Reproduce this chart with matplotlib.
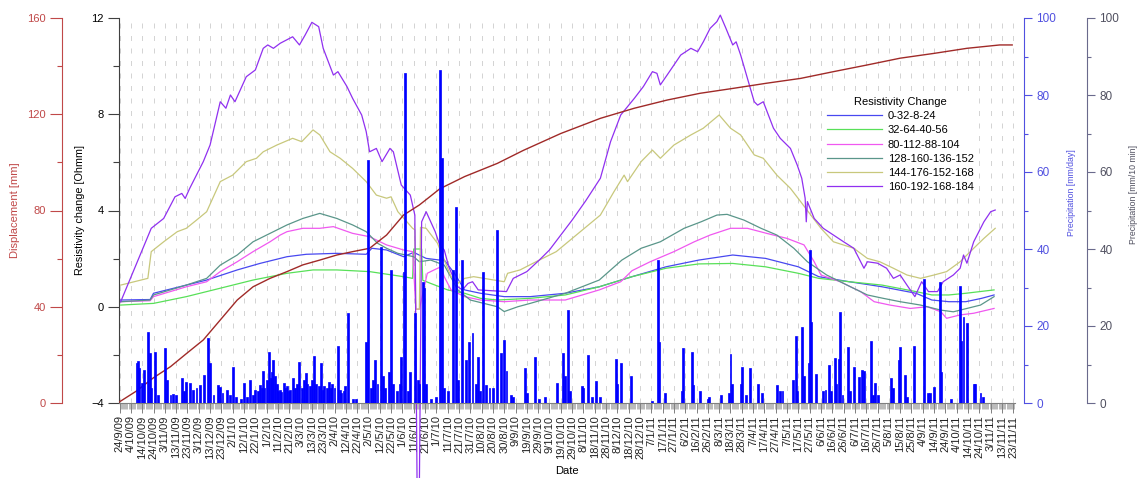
import numpy as np
import pandas as pd
import matplotlib
matplotlib.use('Agg')
import matplotlib.pyplot as plt
from matplotlib.ticker import MultipleLocator

plt.rcParams['font.family'] = ['Liberation Sans', 'DejaVu Sans']

# x axis = days since 24/9/2009
start = pd.Timestamp('2009-09-24')
tick_days = list(range(0, 791, 10))
tick_labels = ['%d/%d/%02d' % (d.day, d.month, d.year % 100)
               for d in [start + pd.Timedelta(days=t) for t in tick_days]]

# resistivity change [Ohmm]
r1_day = [1, 27, 30, 59, 77, 104, 124, 148, 165, 192, 218, 223, 236, 251, 260, 271, 283, 287, 296, 305, 319,
          340, 363, 394, 424, 453, 483, 512, 542, 571, 600, 618, 645, 674, 704, 718, 733, 748, 762, 773]
r1_val = [0.28, 0.30, 0.56, 0.90, 1.11, 1.53, 1.80, 2.08, 2.18, 2.22, 2.18, 2.43, 2.36, 2.08, 2.26, 2.01, 1.94,
          1.94, 1.39, 0.70, 0.56, 0.42, 0.42, 0.56, 0.83, 1.25, 1.66, 1.94, 2.15, 2.01, 1.66, 1.25, 1.04, 0.83,
          0.56, 0.28, 0.21, 0.21, 0.35, 0.49]

r2_day = [1, 30, 59, 89, 118, 148, 171, 192, 221, 251, 259, 260, 267, 268, 275, 290, 305, 319, 334, 363, 394,
          424, 453, 483, 512, 542, 571, 600, 618, 645, 674, 704, 718, 733, 748, 773]
r2_val = [0.07, 0.14, 0.42, 0.77, 1.11, 1.39, 1.53, 1.53, 1.46, 1.25, 1.18, 2.40, 2.40, 1.10, 0.97, 0.70, 0.56,
          0.35, 0.28, 0.35, 0.49, 0.83, 1.25, 1.60, 1.78, 1.80, 1.66, 1.39, 1.18, 1.04, 0.90, 0.63, 0.49, 0.49,
          0.56, 0.70]

r3_day = [1, 27, 30, 59, 77, 89, 104, 118, 133, 142, 148, 162, 177, 189, 206, 221, 236, 251, 259, 262, 265,
          272, 278, 284, 287, 293, 305, 319, 340, 363, 394, 424, 443, 453, 469, 490, 508, 522, 540, 555, 572,
          590, 605, 614, 620, 637, 655, 667, 681, 699, 714, 726, 731, 743, 755, 773]
r3_val = [0.21, 0.25, 0.42, 0.83, 1.04, 1.46, 1.87, 2.29, 2.70, 2.98, 3.12, 3.26, 3.26, 3.33, 3.05, 2.91, 2.57,
          2.36, 2.29, -0.10, -0.10, 1.39, 1.53, 1.66, 1.25, 0.70, 0.42, 0.28, 0.21, 0.28, 0.28, 0.70, 1.04,
          1.50, 1.87, 2.29, 2.70, 2.98, 3.26, 3.26, 3.05, 2.84, 2.57, 1.87, 1.32, 1.04, 0.63, 0.21, 0.07,
          -0.07, 0.00, -0.21, -0.48, -0.34, -0.27, -0.07]

r4_day = [1, 27, 30, 59, 77, 89, 104, 118, 133, 148, 162, 177, 192, 206, 218, 228, 236, 246, 260, 265, 275,
          287, 299, 310, 334, 340, 352, 363, 394, 424, 444, 461, 478, 499, 514, 528, 537, 552, 567, 581, 596,
          608, 625, 643, 661, 675, 690, 708, 726, 737, 749, 761, 773]
r4_val = [0.21, 0.28, 0.49, 0.90, 1.18, 1.73, 2.15, 2.70, 3.05, 3.40, 3.67, 3.88, 3.67, 3.40, 3.12, 2.64, 2.43,
          2.22, 2.08, 1.87, 1.94, 1.73, 0.70, 0.28, 0.00, -0.20, 0.00, 0.14, 0.56, 1.11, 1.94, 2.43, 2.70,
          3.26, 3.53, 3.81, 3.84, 3.60, 3.26, 2.98, 2.43, 1.87, 1.32, 0.90, 0.49, 0.35, 0.21, 0.07, -0.14,
          -0.21, -0.07, 0.07, 0.42]

r5_day = [1, 25, 28, 39, 51, 59, 68, 77, 89, 100, 112, 121, 127, 139, 153, 161, 171, 177, 186, 195, 206, 218,
          227, 236, 240, 246, 254, 259, 261, 262, 265, 266, 271, 281, 293, 299, 305, 313, 340, 343, 354, 371,
          386, 425, 437, 446, 449, 461, 471, 478, 490, 505, 516, 530, 540, 549, 561, 569, 581, 593, 602, 611,
          620, 631, 649, 661, 672, 684, 696, 708, 720, 731, 743, 755, 764, 774]
r5_val = [0.90, 1.18, 2.29, 2.70, 3.12, 3.26, 3.60, 3.95, 5.20, 5.47, 6.03, 6.17, 6.44, 6.72, 7.00, 6.86, 7.35,
          7.14, 6.44, 6.17, 5.75, 5.20, 4.64, 4.51, 4.57, 3.95, 3.53, 3.26, 3.20, -0.10, -0.10, 3.30, 3.26,
          2.64, 1.25, 0.97, 1.18, 1.25, 1.04, 1.39, 1.53, 1.94, 2.29, 3.81, 4.78, 5.47, 5.20, 6.03, 6.51,
          6.17, 6.72, 7.14, 7.42, 7.97, 7.42, 7.14, 6.31, 6.17, 5.47, 4.92, 4.37, 3.81, 3.26, 2.70, 2.43,
          2.01, 1.87, 1.60, 1.32, 1.18, 1.32, 1.46, 1.87, 2.43, 2.84, 3.26]

r6_day = [1, 28, 39, 49, 55, 58, 62, 74, 80, 89, 94, 98, 102, 112, 120, 127, 131, 136, 142, 153, 159, 164, 170,
          176, 180, 189, 193, 201, 206, 214, 218, 221, 227, 232, 239, 242, 249, 257, 261, 263, 265, 267, 271,
          279, 283, 287, 291, 296, 299, 303, 308, 312, 316, 317, 342, 348, 360, 371, 380, 400, 412, 425, 434,
          443, 455, 463, 471, 475, 478, 484, 496, 505, 511, 516, 522, 528, 531, 536, 542, 545, 549, 555, 561,
          564, 569, 578, 584, 593, 599, 603, 606, 607, 608, 614, 622, 631, 640, 649, 658, 661, 670, 678, 684,
          690, 696, 703, 709, 715, 723, 728, 737, 743, 746, 749, 755, 764, 770, 774]
r6_val = [0.21, 3.26, 3.67, 4.57, 4.71, 4.50, 4.92, 6.03, 6.72, 8.52, 8.25, 8.80, 8.52, 9.56, 9.84, 10.74,
          10.88, 10.74, 10.95, 11.22, 10.88, 11.29, 11.82, 11.64, 10.74, 9.63, 9.77, 9.15, 8.66, 7.97, 7.28,
          6.44, 6.58, 6.03, 6.58, 6.44, 5.06, 4.64, 3.81, -7.50, -7.50, 3.53, 3.95, 3.12, 2.57, 2.36, 1.66,
          1.11, 0.83, 0.70, 0.97, 1.04, 0.77, 0.70, 0.63, 1.18, 1.46, 1.94, 2.36, 3.60, 4.40, 5.34, 6.86,
          7.97, 8.66, 9.15, 9.77, 9.70, 9.22, 9.63, 10.46, 10.74, 10.60, 11.01, 11.57, 11.85, 12.12, 11.57,
          10.88, 11.01, 10.46, 9.49, 8.52, 8.38, 8.52, 7.42, 7.00, 6.58, 5.89, 5.34, 4.51, 3.53, 4.37, 3.67,
          3.26, 2.98, 2.70, 2.43, 1.60, 1.87, 1.81, 1.60, 1.18, 1.32, 0.90, 0.42, 1.04, 0.63, 0.63, 1.04,
          1.32, 1.60, 2.15, 1.81, 2.70, 3.53, 3.95, 4.02]

res_labels = ['0-32-8-24', '32-64-40-56', '80-112-88-104', '128-160-136-152', '144-176-152-168',
              '160-192-168-184']
res_colors = ['#4848f0', '#58e058', '#f058f0', '#5a968a', '#c8c87c', '#9030f0']

# displacement [mm]
disp_day = [0, 15, 30, 45, 59, 74, 89, 104, 118, 133, 148, 162, 177, 192, 206, 221, 236, 251, 265, 275, 283,
            305, 334, 357, 390, 425, 455, 484, 513, 543, 572, 602, 631, 661, 690, 720, 749, 778, 789]
disp_val = [0.5, 5.0, 10.5, 15.1, 20.5, 26.2, 34.5, 42.8, 48.3, 51.8, 54.6, 57.4, 59.4, 61.5, 62.9, 64.3,
            69.8, 78.1, 82.3, 86.0, 89.0, 94.1, 99.6, 105.0, 112.0, 118.3, 122.5, 125.9, 128.7, 130.8,
            132.9, 134.9, 137.7, 140.5, 143.3, 145.3, 147.4, 148.8, 148.8]

# precipitation [mm/day]
rain_day = [15, 16, 17, 20, 22, 25, 27, 28, 31, 34, 40, 42, 45, 47, 50, 55, 57, 59, 62, 65, 68, 71, 75, 78, 80,
            83, 87, 89, 91, 95, 98, 100, 103, 107, 110, 113, 115, 118, 120, 122, 124, 126, 127, 128, 130,
            132, 134, 135, 136, 137, 139, 140, 142, 143, 145, 146, 148, 150, 151, 153, 155, 157, 159, 161,
            163, 165, 166, 168, 170, 172, 174, 176, 178, 180, 181, 183, 185, 187, 188, 190, 193, 195, 196,
            198, 199, 202, 206, 209, 218, 220, 222, 224, 226, 228, 231, 233, 235, 238, 240, 242, 245, 248,
            249, 251, 252, 255, 257, 261, 264, 265, 268, 269, 271, 275, 280, 283, 285, 287, 290, 295, 297,
            299, 303, 306, 309, 312, 315, 317, 319, 321, 324, 327, 330, 334, 337, 340, 342, 346, 348, 358,
            360, 367, 371, 376, 387, 392, 394, 396, 398, 409, 410, 414, 418, 421, 425, 439, 440, 443, 452,
            471, 476, 477, 482, 497, 498, 506, 507, 513, 520, 521, 532, 539, 540, 541, 549, 550, 554, 557,
            564, 568, 581, 584, 586, 595, 598, 599, 603, 605, 609, 610, 611, 616, 622, 624, 627, 629, 632,
            633, 636, 637, 639, 644, 646, 649, 654, 656, 658, 664, 666, 668, 670, 682, 684, 689, 690, 694,
            696, 702, 711, 715, 716, 720, 725, 726, 735, 743, 744, 746, 749, 755, 756, 761, 763]
rain_mm = [10.3, 10.8, 9.0, 5.1, 8.6, 18.5, 12.9, 4.0, 13.3, 2.1, 14.2, 6.0, 2.0, 2.3, 2.2, 6.6, 3.0, 5.5, 5.1,
           3.4, 3.8, 4.7, 7.3, 16.8, 10.3, 2.0, 4.7, 4.2, 2.5, 3.4, 2.0, 9.4, 1.5, 1.0, 5.1, 1.5, 6.0, 2.0,
           3.5, 3.0, 4.7, 3.8, 8.4, 4.0, 6.0, 13.3, 6.5, 8.0, 11.2, 7.0, 5.0, 3.0, 3.5, 2.8, 5.1, 4.0, 4.3,
           3.0, 3.5, 6.4, 4.0, 5.0, 10.7, 4.0, 6.0, 7.7, 5.0, 4.5, 6.0, 12.2, 5.0, 4.5, 10.5, 3.5, 4.3, 3.8,
           5.5, 4.0, 5.0, 4.0, 14.8, 3.5, 2.5, 3.0, 4.5, 23.5, 1.0, 1.0, 15.9, 63.0, 4.0, 6.0, 11.2, 5.0,
           40.6, 7.0, 4.0, 8.0, 34.5, 5.0, 3.0, 5.0, 12.0, 34.0, 85.7, 3.0, 8.0, 23.3, 6.0, 5.0, 31.5, 30.0,
           5.0, 1.0, 1.5, 86.5, 63.6, 4.0, 3.0, 34.5, 51.0, 6.0, 37.1, 11.2, 15.9, 18.1, 5.0, 12.0, 3.0,
           34.1, 4.7, 4.0, 4.0, 44.9, 12.9, 16.4, 8.4, 2.0, 1.5, 9.0, 2.5, 11.9, 1.0, 1.5, 5.1, 12.9, 7.0,
           24.2, 3.0, 4.4, 4.0, 12.5, 1.5, 5.8, 1.5, 11.3, 5.0, 10.3, 7.0, 0.5, 37.1, 15.9, 2.5, 3.0, 14.4,
           13.2, 4.7, 3.0, 1.0, 1.5, 2.0, 2.5, 12.7, 5.0, 5.0, 9.4, 2.0, 9.2, 5.0, 2.5, 4.8, 3.0, 3.0, 6.0,
           17.4, 3.0, 19.8, 7.0, 10.3, 39.7, 21.1, 7.5, 3.0, 3.5, 9.9, 3.0, 11.6, 5.0, 11.3, 23.6, 2.0,
           14.6, 3.0, 9.3, 6.8, 8.6, 8.3, 16.2, 2.0, 5.1, 2.0, 6.6, 4.0, 11.2, 14.6, 7.3, 1.5, 14.8, 32.1,
           2.5, 2.5, 4.1, 31.5, 8.1, 1.0, 30.5, 16.0, 22.4, 20.9, 4.9, 4.9, 2.7, 1.5]

red = '#c04848'
pblue = '#5050e0'
pgrey = '#6a6a8c'

fig = plt.figure(figsize=(11.4, 4.78), dpi=100)
ax = fig.add_axes([119 / 1140, 1 - 403 / 478, 896 / 1140, 385 / 478])

# resistivity
for d, v, lab, c in zip([r1_day, r2_day, r3_day, r4_day, r5_day, r6_day],
                        [r1_val, r2_val, r3_val, r4_val, r5_val, r6_val], res_labels, res_colors):
    ln, = ax.plot(d, v, color=c, lw=0.9, label=lab)
    if lab == res_labels[-1]:
        ln.set_clip_on(False)

ax.set_xlim(-0.5, 791.5)
ax.set_ylim(-4, 12)
ax.set_yticks([-4, 0, 4, 8, 12])
ax.yaxis.set_minor_locator(MultipleLocator(2))
ax.set_xticks(tick_days)
ax.set_xticklabels(tick_labels, rotation=90, fontsize=8, color='#222222')
ax.xaxis.set_minor_locator(MultipleLocator(1))
ax.tick_params(axis='x', which='major', length=7, width=0.7, color='#808080', pad=2)
ax.tick_params(axis='x', which='minor', length=4, width=0.5, color='#a0a0a0')
ax.tick_params(axis='y', which='major', length=8, width=0.8, color='#404040', labelsize=8, pad=3)
ax.tick_params(axis='y', which='minor', length=4, width=0.8, color='#404040')
ax.grid(axis='x', which='major', color='#cccccc', lw=0.6, dashes=(6, 9))
for s in ['top', 'right']:
    ax.spines[s].set_visible(False)
ax.spines['left'].set_color('#404040')
ax.spines['bottom'].set_color('#808080')
ax.set_xlabel('Date', fontsize=8, labelpad=5)

leg = ax.legend(title='Resistivity Change', loc='upper left', bbox_to_anchor=(818 / 1140, 1 - 88 / 478),
                bbox_transform=fig.transFigure, fontsize=8, title_fontsize=8, handlelength=5,
                handletextpad=0.5, labelspacing=0.38, frameon=True, fancybox=False, borderpad=0.3)
leg.get_frame().set_edgecolor('none')
leg.get_frame().set_facecolor('white')
leg.get_frame().set_alpha(1)

# displacement
ax_d = ax.twinx()
ax_d.plot(disp_day, disp_val, color='#a02a28', lw=1.0)
ax_d.set_ylim(0, 160)
ax_d.set_yticks([0, 40, 80, 120, 160])
ax_d.yaxis.set_minor_locator(MultipleLocator(20))
ax_d.yaxis.tick_left()
ax_d.spines['left'].set_position(('axes', -57 / 896))
for s in ['top', 'right', 'bottom']:
    ax_d.spines[s].set_visible(False)
ax_d.spines['left'].set_color(red)
ax_d.tick_params(axis='y', which='major', length=8.5, width=0.8, color=red, labelcolor=red, labelsize=8, pad=3)
ax_d.tick_params(axis='y', which='minor', length=3.5, width=0.8, color=red)

# precipitation mm/day
ax_p = ax.twinx()
ax_p.bar(rain_day, rain_mm, width=1.7, color='#0000ff', edgecolor='#0000ff', lw=0.5)
ax_p.set_ylim(0, 100)
ax_p.set_yticks([0, 20, 40, 60, 80, 100])
ax_p.yaxis.set_minor_locator(MultipleLocator(10))
ax_p.spines['right'].set_position(('axes', (1024 - 119) / 896))
for s in ['top', 'left', 'bottom']:
    ax_p.spines[s].set_visible(False)
ax_p.spines['right'].set_color(pblue)
ax_p.tick_params(axis='y', which='major', length=6, width=0.8, color=pblue, labelcolor=pblue, labelsize=8.5, pad=3)
ax_p.tick_params(axis='y', which='minor', length=3, width=0.8, color=pblue)

# precipitation mm/10 min (axis only)
ax_q = ax.twinx()
ax_q.set_ylim(0, 100)
ax_q.set_yticks([0, 20, 40, 60, 80, 100])
ax_q.yaxis.set_minor_locator(MultipleLocator(10))
ax_q.spines['right'].set_position(('axes', (1087 - 119) / 896))
for s in ['top', 'left', 'bottom']:
    ax_q.spines[s].set_visible(False)
ax_q.spines['right'].set_color(pgrey)
ax_q.tick_params(axis='y', which='major', length=6, width=0.8, color=pgrey, labelcolor='#505060', labelsize=8.5, pad=3)
ax_q.tick_params(axis='y', which='minor', length=3, width=0.8, color=pgrey)

fig.text(15 / 1140, 1 - 210 / 478, 'Displacement [mm]', rotation=90, ha='center', va='center', fontsize=8, color=red)
fig.text(80 / 1140, 1 - 210 / 478, 'Resistivity change [Ohmm]', rotation=90, ha='center', va='center', fontsize=7.8)
fig.text(1071 / 1140, 1 - 193 / 478, 'Precipitation [mm/day]', rotation=90, ha='center', va='center',
         fontsize=6.3, color=pblue)
fig.text(1133 / 1140, 1 - 195 / 478, 'Precipitation [mm/10 min]', rotation=90, ha='center', va='center',
         fontsize=6.3, color='#505060')

fig.savefig('out.png', dpi=100)
